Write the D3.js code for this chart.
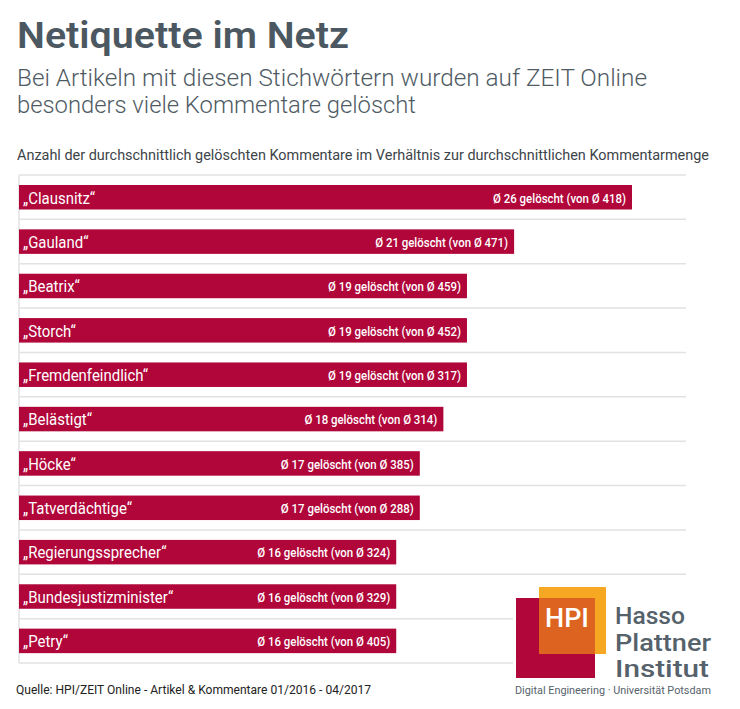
<!DOCTYPE html>
<html>
<head>
<meta charset="utf-8">
<script src="https://cdn.jsdelivr.net/npm/d3@7"></script>
<style>
  body { margin: 0; background: #fff; }
  text { font-family: Roboto, "Open Sans", sans-serif; }
</style>
</head>
<body>
<div id="chart"></div>
<script>
// data
const terms = ["Clausnitz", "Gauland", "Beatrix", "Storch", "Fremdenfeindlich", "Belästigt",
  "Höcke", "Tatverdächtige", "Regierungssprecher", "Bundesjustizminister", "Petry"];
const deleted = [26, 21, 19, 19, 19, 18, 17, 17, 16, 16, 16];
const totals = [418, 471, 459, 452, 317, 314, 385, 288, 324, 329, 405];

const rows = terms.map((t, i) => ({ term: t, del: deleted[i], total: totals[i] }));

const W = 740, H = 709;
const padLeft = 19, gridRight = 686, gridTop = 175, gridBottom = 663;
const red = "#b0063a", slate = "#4c5861";

const svg = d3.select("#chart").append("svg")
  .attr("width", W).attr("height", H);

// squeeze a text to look condensed
function condense(sel, f) {
  sel.each(function () {
    const len = this.getComputedTextLength();
    d3.select(this).attr("textLength", len * f).attr("lengthAdjust", "spacingAndGlyphs");
  });
}

// headings
svg.append("text").attr("x", 17).attr("y", 48)
  .attr("font-size", 36).attr("font-weight", 600).attr("fill", slate)
  .attr("textLength", 332).attr("lengthAdjust", "spacingAndGlyphs")
  .text("Netiquette im Netz");
svg.append("text").attr("x", 17).attr("y", 86)
  .attr("font-size", 23).attr("font-weight", 300).attr("fill", "#4f5b64")
  .attr("textLength", 630).attr("lengthAdjust", "spacingAndGlyphs")
  .text("Bei Artikeln mit diesen Stichwörtern wurden auf ZEIT Online");
svg.append("text").attr("x", 17).attr("y", 113)
  .attr("font-size", 23).attr("font-weight", 300).attr("fill", "#4f5b64")
  .attr("textLength", 399).attr("lengthAdjust", "spacingAndGlyphs")
  .text("besonders viele Kommentare gelöscht");
svg.append("text").attr("x", 17).attr("y", 160)
  .attr("font-size", 14).attr("fill", "#3d4449")
  .attr("textLength", 692).attr("lengthAdjust", "spacingAndGlyphs")
  .text("Anzahl der durchschnittlich gelöschten Kommentare im Verhältnis zur durchschnittlichen Kommentarmenge");

// scales
const x = d3.scaleLinear().domain([0, 26]).range([padLeft, 632]);
const y = d3.scaleBand().domain(terms).range([gridTop, gridBottom]);

// grid
const grid = svg.append("g").attr("stroke", "#e2e2e2").attr("stroke-width", 1.5);
grid.selectAll("line.h")
  .data(terms.concat(["__end"]))
  .enter().append("line")
  .attr("x1", padLeft).attr("x2", gridRight)
  .attr("y1", (d, i) => gridTop + i * y.step())
  .attr("y2", (d, i) => gridTop + i * y.step());
grid.append("line").attr("x1", padLeft).attr("x2", padLeft).attr("y1", gridTop).attr("y2", gridBottom);

// bars
const g = svg.append("g").selectAll("g").data(rows).enter().append("g")
  .attr("transform", d => "translate(0," + y(d.term) + ")");

g.append("rect")
  .attr("x", x(0)).attr("y", 10)
  .attr("width", d => x(d.del) - x(0)).attr("height", 24.5)
  .attr("fill", red);

g.append("text")
  .attr("x", x(0) + 4).attr("y", 28.5)
  .attr("font-size", 17).attr("fill", "#fff")
  .text(d => "\u201E" + d.term + "\u201C")
  .call(condense, 0.88);

g.append("text")
  .attr("x", d => x(d.del) - 6).attr("y", 27.5)
  .attr("text-anchor", "end")
  .attr("font-size", 13).attr("font-weight", 500).attr("fill", "#fff")
  .text(d => "Ø " + d.del + " gelöscht (von Ø " + d.total + ")")
  .call(condense, 0.88);

// source
svg.append("text").attr("x", 16).attr("y", 694)
  .attr("font-size", 13).attr("fill", "#222")
  .attr("textLength", 355).attr("lengthAdjust", "spacingAndGlyphs")
  .text("Quelle: HPI/ZEIT Online - Artikel & Kommentare 01/2016 - 04/2017");

// logo
const logo = svg.append("g");
logo.append("rect").attr("x", 513).attr("y", 580).attr("width", 227).attr("height", 129).attr("fill", "#fff");
logo.append("rect").attr("x", 516).attr("y", 598).attr("width", 79).attr("height", 80).attr("fill", "#b1063a");
logo.append("rect").attr("x", 539).attr("y", 587).attr("width", 67).attr("height", 67).attr("fill", "#f6a823");
logo.append("rect").attr("x", 539).attr("y", 598).attr("width", 56).attr("height", 56).attr("fill", "#dd6420");
logo.append("text").attr("x", 567).attr("y", 627).attr("text-anchor", "middle")
  .attr("font-size", 25).attr("font-weight", 500).attr("fill", "#fff")
  .attr("textLength", 44).attr("lengthAdjust", "spacingAndGlyphs").text("HPI");
["Hasso", "Plattner", "Institut"].forEach((t, i) => {
  logo.append("text").attr("x", 615).attr("y", 624 + i * 26.5)
    .attr("font-size", 24).attr("font-weight", 500).attr("fill", "#56626b")
    .attr("textLength", [70, 96, 94][i]).attr("lengthAdjust", "spacingAndGlyphs")
    .text(t);
});
logo.append("text").attr("x", 515).attr("y", 694)
  .attr("font-size", 11).attr("fill", "#56626b")
  .attr("textLength", 196).attr("lengthAdjust", "spacingAndGlyphs")
  .text("Digital Engineering · Universität Potsdam");
</script>
</body>
</html>
